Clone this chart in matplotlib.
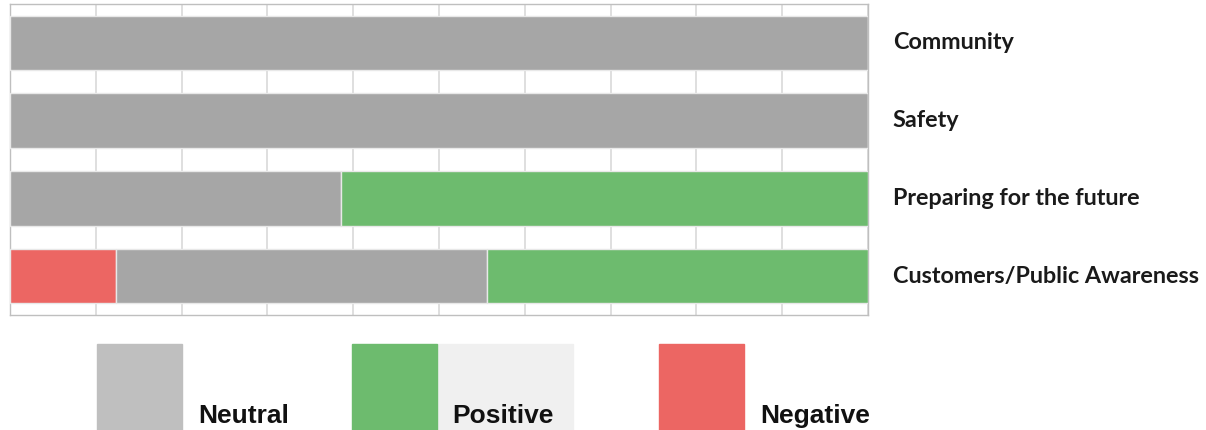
import matplotlib.pyplot as plt
from matplotlib.patches import Rectangle

categories = ["Community", "Safety", "Preparing for the future", "Customers/Public Awareness"]
negative = [0.0, 0.0, 0.0, 12.4]
neutral = [100.0, 100.0, 38.6, 43.2]
positive = [0.0, 0.0, 61.4, 44.4]
legend_names = ["Neutral", "Positive", "Negative"]

C_NEU = "#a6a6a6"
C_POS = "#6dbb6e"
C_NEG = "#ec6663"

W, H = 1206, 430
fig = plt.figure(figsize=(W / 100, H / 100), dpi=100)
ax = fig.add_axes([10 / W, 1 - 315 / H, 858 / W, 311 / H])

ypos = list(range(len(categories)))
left = [0.0] * len(categories)
for vals, col in [(negative, C_NEG), (neutral, C_NEU), (positive, C_POS)]:
    ax.barh(ypos, vals, left=left, height=0.7, color=col,
            edgecolor="#e8e8e8", linewidth=1, zorder=3)
    left = [a + b for a, b in zip(left, vals)]

ax.set_xlim(0, 100)
ax.set_ylim(len(categories) - 0.5, -0.5)
ax.set_xticks(range(0, 101, 10))
ax.set_yticks([])
ax.tick_params(axis="x", length=0, labelbottom=False)
ax.grid(axis="x", color="#d9d9d9", linewidth=1.2, zorder=0)
for s in ax.spines.values():
    s.set_color("#bfbfbf")
    s.set_linewidth(1)

for y, name in zip(ypos, categories):
    ax.text(1.029, 1 - (y + 0.5) / len(categories), name,
            transform=ax.transAxes, ha="left", va="center",
            fontsize=16.8, fontweight="bold", family="Lato", color="#1a1a1a")

# legend drawn by hand below the chart
boxes = [(97, "#bfbfbf", 198), (352, C_POS, 452), (659, C_NEG, 760)]
fig.patches.append(Rectangle((437 / W, 0), 136 / W, 86 / H, transform=fig.transFigure,
                             color="#f0f0f0", zorder=0))
for (x0, col, tx), name in zip(boxes, legend_names):
    fig.patches.append(Rectangle((x0 / W, 0), 85 / W, 86 / H, transform=fig.transFigure,
                                 color=col, zorder=1))
    fig.text(tx / W, 1 - 423 / H, name, ha="left", va="baseline",
             fontsize=19, fontweight="bold", family="Liberation Sans", color="#111111")

fig.savefig("out.png", dpi=100)
